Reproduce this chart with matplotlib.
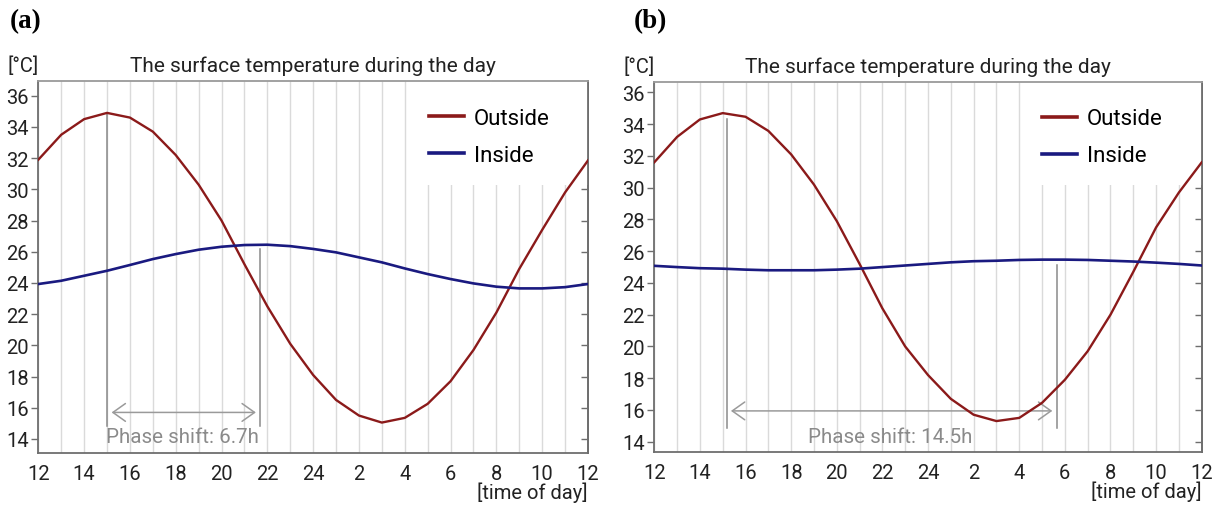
import matplotlib
matplotlib.use("Agg")
import matplotlib.pyplot as plt
from matplotlib.patches import Rectangle

plt.rcParams['font.family'] = ['Roboto', 'DejaVu Sans']

# ---------------- data ----------------
hours = list(range(25))  # hours after 12:00 (12 -> 12 next day)
xtick_pos = list(range(0, 25, 2))
xtick_labels = ['12', '14', '16', '18', '20', '22', '24', '2', '4', '6', '8', '10', '12']
ytick_vals = list(range(14, 37, 2))

outside_a = [31.9, 33.5, 34.5, 34.9, 34.6, 33.7, 32.2, 30.3, 28.0, 25.2, 22.5, 20.1, 18.1,
             16.5, 15.5, 15.05, 15.35, 16.25, 17.7, 19.7, 22.1, 24.9, 27.4, 29.8, 31.85]
inside_a = [23.93, 24.14, 24.46, 24.78, 25.15, 25.53, 25.85, 26.13, 26.32, 26.43, 26.45, 26.36, 26.18,
            25.96, 25.64, 25.32, 24.93, 24.57, 24.25, 23.97, 23.76, 23.65, 23.65, 23.73, 23.93]

outside_b = [31.6, 33.2, 34.3, 34.7, 34.47, 33.58, 32.1, 30.2, 27.9, 25.2, 22.4, 20.0, 18.2,
             16.7, 15.7, 15.3, 15.5, 16.45, 17.9, 19.7, 22.0, 24.7, 27.5, 29.7, 31.6]
inside_b = [25.08, 25.0, 24.93, 24.9, 24.84, 24.8, 24.8, 24.8, 24.84, 24.9, 25.0, 25.1, 25.2,
            25.3, 25.37, 25.4, 25.45, 25.47, 25.47, 25.45, 25.4, 25.35, 25.28, 25.2, 25.1]

# phase shift annotations
phase_a = dict(x0=3.0, top0=34.9, x1=9.67, top1=26.15, ax0=3.2, ax1=9.5, ay=15.7,
               label='Phase shift: 6.7h', lx=2.95, ly=14.15)
phase_b = dict(x0=3.17, top0=34.35, x1=17.67, top1=25.1, ax0=3.36, ax1=17.45, ay=15.94,
               label='Phase shift: 14.5h', lx=6.73, ly=14.3)

title = 'The surface temperature during the day'

RED = '#8b1a1a'
BLUE = '#1a1a80'
GRID = '#dadada'
SPINE = '#6e6e6e'
GRAYTXT = '#8a8a8a'
TXT = '#222222'

fig = plt.figure(figsize=(12.28, 5.06), dpi=100)


def panel(rect, outside, inside, ylim, phase, tag, tagx, boxleft, legx):
    ax = fig.add_axes(rect)
    ax.set_xlim(0, 24)
    ax.set_ylim(*ylim)
    ax.set_axisbelow(True)
    ax.set_xticks(hours, minor=True)
    ax.set_xticks(xtick_pos)
    ax.set_xticklabels(xtick_labels)
    ax.grid(True, axis='x', which='both', color=GRID, lw=1.0)
    ax.tick_params(axis='x', which='both', length=0, labelsize=14.5, pad=8, labelcolor=TXT)
    ax.set_yticks(ytick_vals)
    ax.tick_params(axis='y', direction='out', length=5, width=1, color=SPINE,
                   labelsize=14.5, pad=2, labelcolor=TXT)
    for s in ax.spines.values():
        s.set_color(SPINE)
        s.set_linewidth(1.3)
    ax.spines['top'].set_color('#9a9a9a')
    sec = ax.secondary_yaxis('right')
    sec.set_yticks(ytick_vals)
    sec.tick_params(direction='in', length=5, width=1, color=SPINE, labelright=False)
    sec.spines['right'].set_color(SPINE)
    sec.spines['right'].set_linewidth(1.3)

    # white legend area hiding gridlines
    ax.add_patch(Rectangle((boxleft, 0.72), 1 - boxleft, 0.28, transform=ax.transAxes,
                           facecolor='white', edgecolor='none', zorder=1))

    lo, = ax.plot(hours, outside, color=RED, lw=1.7, zorder=3, label='Outside')
    li, = ax.plot(hours, inside, color=BLUE, lw=1.9, zorder=3, label='Inside')
    leg = ax.legend(handles=[lo, li], loc='upper right', bbox_to_anchor=(legx, 0.952),
                    frameon=False, fontsize=16, handlelength=1.58, handletextpad=0.45,
                    labelspacing=0.72, borderaxespad=0)
    for h in leg.legend_handles:
        h.set_linewidth(2.6)

    # phase shift annotation
    ax.plot([phase['x0'], phase['x0']], [14.85, phase['top0']], color='#8a8a8a', lw=1.1, zorder=2)
    ax.plot([phase['x1'], phase['x1']], [14.85, phase['top1']], color='#8a8a8a', lw=1.1, zorder=2)
    ax.annotate('', xy=(phase['ax1'], phase['ay']), xytext=(phase['ax0'], phase['ay']),
                arrowprops=dict(arrowstyle='<->,head_length=0.45,head_width=0.32',
                                color='#9a9a9a', lw=1.1, mutation_scale=20,
                                shrinkA=0, shrinkB=0), zorder=2)
    ax.text(phase['lx'], phase['ly'], phase['label'], color=GRAYTXT, fontsize=14.8,
            ha='left', va='center', zorder=4)

    ax.text(0.5, 1.043, title, transform=ax.transAxes, ha='center', va='center',
            fontsize=15, color=TXT)
    ax.text(-0.056, 1.043, '[°C]', transform=ax.transAxes, ha='left', va='center',
            fontsize=14.5, color=TXT)
    ax.text(1.0, -0.105, '[time of day]', transform=ax.transAxes, ha='right', va='center',
            fontsize=14.5, color=TXT)
    fig.text(tagx, 0.958, tag, ha='left', va='center', fontsize=19.5, fontweight='bold',
             family='Liberation Serif')
    return ax


panel([0.0312, 0.1028, 0.4476, 0.735], outside_a, inside_a, (13.1, 36.94), phase_a, '(a)',
      0.008, 0.685, 0.947)
panel([0.5328, 0.1047, 0.4458, 0.7316], outside_b, inside_b, (13.35, 36.67), phase_b, '(b)',
      0.516, 0.69, 0.945)

fig.savefig('out.png', dpi=100)
